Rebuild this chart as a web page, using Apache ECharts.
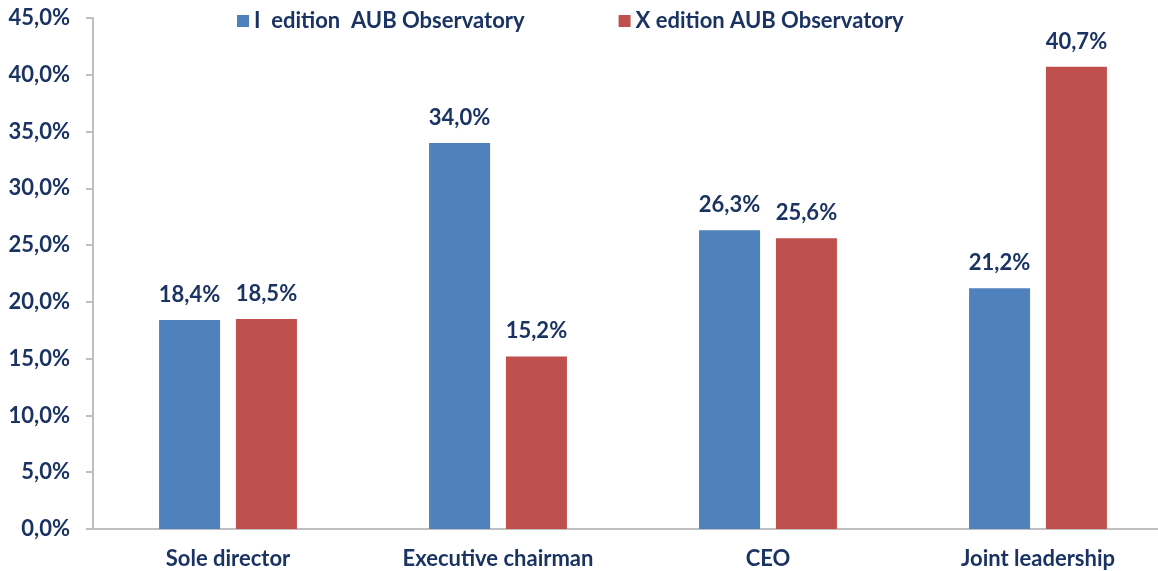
<!DOCTYPE html>
<html>
<head>
<meta charset="utf-8">
<script src="https://cdn.jsdelivr.net/npm/echarts@6/dist/echarts.min.js"></script>
<style>
  html, body { margin: 0; padding: 0; background: #fff; overflow: hidden; }
  /* the plot runs a little past the right edge of the window, as in the original */
  #chart { width: 1173px; height: 571px; }
</style>
</head>
<body>
<div id="chart"></div>
<script>
const categories = ["Sole director", "Executive chairman", "CEO", "Joint leadership"];
const firstEdition = [18.4, 34.0, 26.3, 21.2];
const tenthEdition = [18.5, 15.2, 25.6, 40.7];
const seriesNames = ["I  edition  AUB Observatory", "X edition AUB Observatory"];

const navy = "#1A3363";
const font = "Lato, 'Open Sans', sans-serif";
const pct = (v) => v.toFixed(1).replace(".", ",") + "%";

const chart = echarts.init(document.getElementById("chart"), null, { renderer: "canvas" });

const label = {
  show: true,
  position: "top",
  distance: 14,
  color: navy,
  fontFamily: font,
  fontWeight: "bold",
  fontSize: 22,
  formatter: (p) => pct(p.value),
};

chart.setOption({
  animation: false,
  legend: {
    top: 5,
    left: 232,
    itemWidth: 12,
    itemHeight: 12,
    itemGap: 94,
    icon: "rect",
    textStyle: { color: navy, fontFamily: font, fontWeight: "bold", fontSize: 22 },
    data: seriesNames,
  },
  grid: { left: 93, right: 0, top: 18, height: 511, containLabel: false },
  xAxis: {
    type: "category",
    data: categories,
    axisLine: { lineStyle: { color: "#BFBFBF", width: 2 } },
    axisTick: { show: false },
    axisLabel: { color: navy, fontFamily: font, fontWeight: "bold", fontSize: 22, margin: 19 },
  },
  yAxis: {
    type: "value",
    min: 0,
    max: 45,
    interval: 5,
    axisLine: { show: true, lineStyle: { color: "#BFBFBF", width: 2 } },
    axisTick: { show: true, length: 7, lineStyle: { color: "#BFBFBF", width: 2 } },
    splitLine: { show: false },
    axisLabel: {
      color: navy, fontFamily: font, fontWeight: "bold", fontSize: 22, margin: 23,
      formatter: (v) => pct(v),
    },
  },
  series: [
    {
      name: seriesNames[0],
      type: "bar",
      data: firstEdition,
      barWidth: 61,
      barGap: "26%",
      itemStyle: { color: "#4F81BD" },
      label,
    },
    {
      name: seriesNames[1],
      type: "bar",
      data: tenthEdition,
      barWidth: 61,
      itemStyle: { color: "#C0504D" },
      label,
    },
  ],
});
</script>
</body>
</html>
